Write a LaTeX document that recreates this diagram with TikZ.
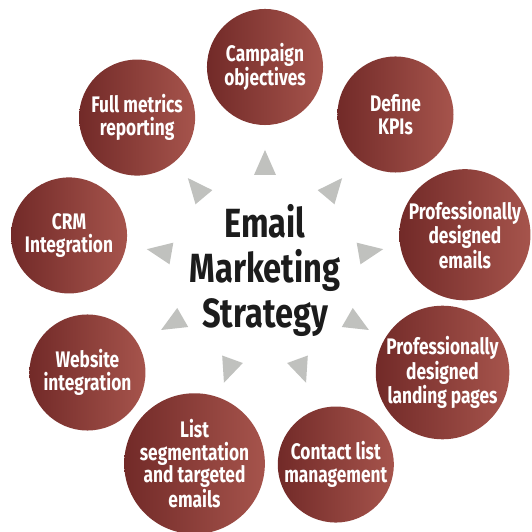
\documentclass[tikz,border=0pt]{standalone}
\usepackage{fontspec}
\setmainfont{Fira Sans}
\newfontfamily\hubfont[FakeStretch=0.8]{Fira Sans}
\newfontfamily\bubblefont[FakeStretch=0.77]{Fira Sans}
\definecolor{bubbledark}{RGB}{114,42,40}
\definecolor{bubblelight}{RGB}{166,84,76}
\definecolor{pointergray}{RGB}{192,193,190}
\definecolor{hubtext}{RGB}{28,28,28}

\begin{document}
\begin{tikzpicture}[x=0.025cm,y=0.025cm,
    bubble/.style={circle,minimum size=2.9cm,inner sep=0pt,
      left color=bubbledark,right color=bubblelight,text=white,align=center,
      font=\bubblefont\bfseries\fontsize{16}{16}\selectfont},
    hub/.style={align=center,text=hubtext,
      font=\hubfont\bfseries\fontsize{29}{32}\selectfont},
    pointer/.style={fill=pointergray}]
  \useasboundingbox (-265,-262) rectangle (267,270);
  \node[hub] (hub) at (0,0) {Email\\Marketing\\Strategy};
  \node[bubble] (camp)    at (90:203)  {Campaign\\objectives};
  \node[bubble] (kpi)     at (50:203)  {Define\\KPIs};
  \node[bubble] (emails)  at (10:203)  {Professionally\\designed\\emails};
  \node[bubble] (landing) at (-30:205) {Professionally\\designed\\landing pages};
  \node[bubble] (contact) at (-70:207) {Contact list\\management};
  \node[bubble] (segment) at (-110:206) {List\\segmentation\\and targeted\\emails};
  \node[bubble] (website) at (-150:205) {Website\\integration};
  \node[bubble] (crm)     at (170:199) {CRM\\Integration};
  \node[bubble] (metrics) at (130:199) {Full metrics\\reporting};
  % pointers from the hub towards each bubble
  \foreach \a in {90,50,10,-30,-70,-110,-150,170,130}
    \fill[pointer,rotate=\a] (95,-11) -- (120,0) -- (95,11) -- cycle;
\end{tikzpicture}
\end{document}
